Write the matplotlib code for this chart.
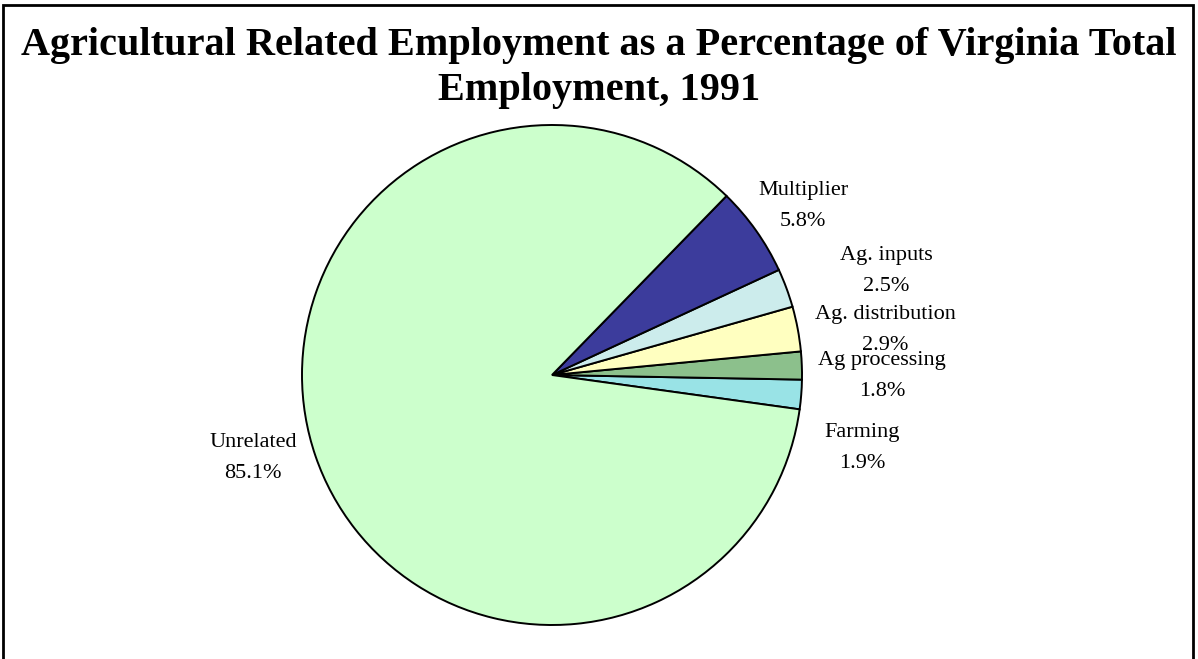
import matplotlib
matplotlib.use('Agg')
import matplotlib.pyplot as plt
from matplotlib.patches import Rectangle

# slices, counterclockwise from just below 3 o'clock
categories = ['Farming', 'Ag processing', 'Ag. distribution', 'Ag. inputs', 'Multiplier', 'Unrelated']
shares = [1.9, 1.8, 2.9, 2.5, 5.8, 85.1]
colors = ['#99E3E6', '#8CC08C', '#FFFFC0', '#CCECEC', '#3C3C9C', '#CCFFCC']

# where each label sits, in pie radius units
label_xy = [(1.24, -0.292), (1.32, -0.004), (1.332, 0.18), (1.336, 0.416), (1.004, 0.676), (-1.196, -0.332)]

W, H = 1198, 659
fig = plt.figure(figsize=(W / 100, H / 100), dpi=100)
plt.rcParams['font.family'] = ['Liberation Serif', 'DejaVu Serif']

# pie centre (552,375), radius 250 px
cx, cy, r = 552, 375, 250
ax = fig.add_axes([(cx - r) / W, (H - cy - r) / H, 2 * r / W, 2 * r / H])
wedges, texts = ax.pie(shares, colors=colors, startangle=-7.9, counterclock=True,
                       labels=categories, radius=1,
                       wedgeprops=dict(edgecolor='black', linewidth=1.4))
for t, cat, val, (x, y) in zip(texts, categories, shares, label_xy):
    t.set_text('%s\n%.1f%%' % (cat, val))
    t.set_position((x, y))
    t.set_ha('center')
    t.set_va('center')
    t.set_fontsize(16)
    t.set_linespacing(1.8)
ax.set_xlim(-1, 1)
ax.set_ylim(-1, 1)
ax.set_aspect('equal')
ax.axis('off')

fig.text(0.5, 1 - 68 / H, 'Agricultural Related Employment as a Percentage of Virginia Total\nEmployment, 1991',
         ha='center', va='center', fontsize=29, fontweight='bold', linespacing=1.27)

# frame around the chart area
fig.patches.append(Rectangle((3 / W, -0.05), (1193 - 3) / W, 1.05 - 5 / H,
                             transform=fig.transFigure, fill=False,
                             edgecolor='black', linewidth=2))

fig.savefig('out.png', dpi=100)
